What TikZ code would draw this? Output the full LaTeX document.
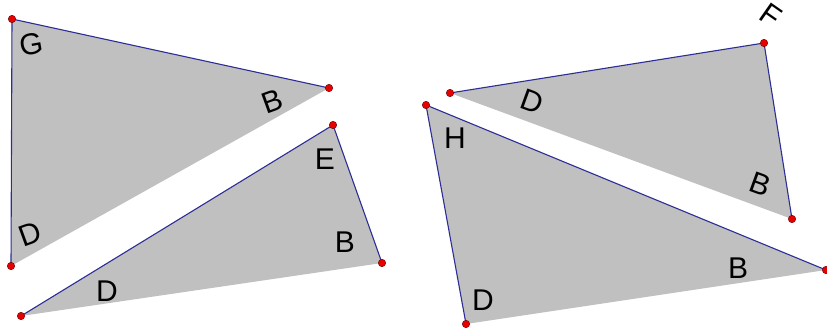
\documentclass[tikz,border=0pt]{standalone}
\usepackage{fontspec}
\setmainfont{Liberation Sans}
\definecolor{tfill}{RGB}{192,192,192}
\definecolor{tedge}{RGB}{45,45,150}
\definecolor{tdot}{RGB}{230,0,0}
\begin{document}
\begin{tikzpicture}[x=1pt,y=-1pt,
  tri/.style={fill=tfill,draw=none},
  edge/.style={draw=tedge,line width=1.1pt},
  vdot/.style={circle,fill=tdot,draw=black!60!red,line width=0.4pt,inner sep=0pt,minimum size=7.5pt},
  lab/.style={font=\fontsize{30}{30}\selectfont,inner sep=0pt}]
\useasboundingbox (0,0) rectangle (827,329);
% triangle 1
\coordinate (g1) at (12,19);
\coordinate (b1) at (329,88);
\coordinate (d1) at (11,266);
% triangle 2
\coordinate (e2) at (333,125);
\coordinate (b2) at (382,263);
\coordinate (d2) at (21,316);
% triangle 3
\coordinate (d3) at (450,93);
\coordinate (f3) at (764,43);
\coordinate (b3) at (792,219);
% triangle 4
\coordinate (h4) at (426,105);
\coordinate (b4) at (826,270);
\coordinate (d4) at (466,324);
\fill[tri] (g1) -- (b1) -- (d1) -- cycle;
\fill[tri] (e2) -- (b2) -- (d2) -- cycle;
\fill[tri] (d3) -- (f3) -- (b3) -- cycle;
\fill[tri] (h4) -- (b4) -- (d4) -- cycle;
\draw[edge] (b1) -- (g1) -- (d1);
\draw[edge] (d2) -- (e2) -- (b2);
\draw[edge] (d3) -- (f3) -- (b3);
\draw[edge] (b4) -- (h4) -- (d4);
\foreach \p in {g1,b1,d1,e2,b2,d2,d3,f3,b3,h4,b4,d4}
  \node[vdot] (n\p) at (\p) {};
% labels
\node[lab,rotate=10] (lg1) at (31,44) {G};
\node[lab,rotate=20] (lb1) at (272,101) {B};
\node[lab,rotate=20] (ld1) at (30,234) {D};
\node[lab] (le2) at (325,159) {E};
\node[lab] (lb2) at (345,242) {B};
\node[lab] (ld2) at (107,291) {D};
\node[lab,rotate=-20] (ld3) at (532,102) {D};
\node[lab,rotate=-35] (lf3) at (771,15) {F};
\node[lab,rotate=-20] (lb3) at (760,184) {B};
\node[lab] (lh4) at (455,138) {H};
\node[lab] (lb4) at (738,268) {B};
\node[lab] (ld4) at (483,300) {D};
\end{tikzpicture}
\end{document}
